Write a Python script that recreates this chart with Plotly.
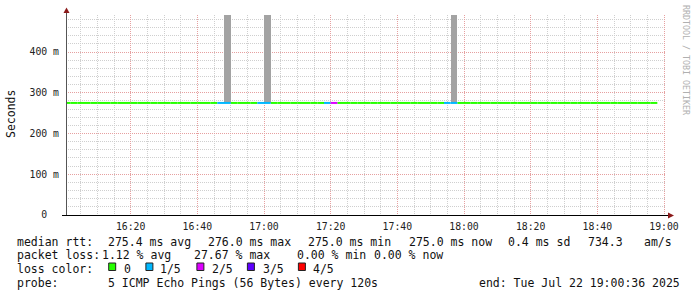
import plotly.graph_objects as go
import pandas as pd

# ---------------- data ----------------
step_start = list(pd.date_range("2025-07-22 16:00:00", "2025-07-22 18:56:00", freq="2min"))
# median rtt per 2-minute step (seconds)
median_rtt = [0.275] * 89
# loss per step (count of 5 pings lost)
loss_step_times = ["16:46", "16:48", "16:58", "17:00", "17:18", "17:20", "17:54", "17:56"]
loss_step_counts = [1, 1, 1, 1, 1, 2, 1, 1]
# smoke (gray bars) steps, reaching the top of the graph
smoke_times = ["16:48", "17:00", "17:56"]
smoke_top = 0.4908

loss_colors = ["#26ff00", "#00b8ff", "#dd00ff", "#5e00ff", "#ff0000"]
loss_labels = ["0", "1/5", "2/5", "3/5", "4/5"]

y_tickvals = [0, 0.1, 0.2, 0.3, 0.4]
y_ticktext = ["0\u00a0\u00a0", "100 m", "200 m", "300 m", "400 m"]

line1 = ["median rtt:", "275.4 ms avg", "276.0 ms max", "275.0 ms min", "275.0 ms now", "0.4 ms sd", "734.3", "am/s"]
line1_x = [16, 107.3, 207.3, 307.3, 408.3, 507.3, 586.7, 642.7]
line2 = ["packet loss:", "1.12 % avg", "27.67 % max", "0.00 % min", "0.00 % now"]
line2_x = [16, 100.7, 193.3, 296, 372.7]
line4 = ["probe:", "5 ICMP Echo Pings (56 Bytes) every 120s", "end: Tue Jul 22 19:00:36 2025"]
line4_x = [16, 107.3, 478.3]

# ---------------- build ----------------
day = "2025-07-22 "
loss_map = {pd.Timestamp(day + t): c for t, c in zip(loss_step_times, loss_step_counts)}
step = pd.Timedelta(minutes=2)

fig = go.Figure()

# smoke bars
sm_x = [pd.Timestamp(day + t) + step / 2 for t in smoke_times]
sm_base = [median_rtt[step_start.index(pd.Timestamp(day + t))] for t in smoke_times]
fig.add_trace(go.Bar(x=sm_x, y=[smoke_top - b for b in sm_base], base=sm_base,
                     width=120000, marker=dict(color="#a3a3a3", line=dict(width=0)),
                     showlegend=False, hoverinfo="skip"))

# median line colored by loss
for lvl, col in enumerate(loss_colors):
    xs, ys = [], []
    for t, v in zip(step_start, median_rtt):
        if loss_map.get(t, 0) == lvl:
            xs += [t, t + step, None]
            ys += [v, v, None]
    if xs:
        fig.add_trace(go.Scatter(x=xs, y=ys, mode="lines",
                                 line=dict(color=col, width=2),
                                 showlegend=False, hoverinfo="skip"))

L, R, T, B = 66, 31, 15, 82
W, H = 697, 297
PW, PH = W - L - R, H - T - B


def px(x):
    return (x - L) / PW


def py(y):
    return (H - B - y) / PH


mono = "DejaVu Sans Mono"
fig.update_layout(
    width=W, height=H, margin=dict(l=L, r=R, t=T, b=B),
    paper_bgcolor="white", plot_bgcolor="white",
    bargap=0,
    xaxis=dict(type="date", range=["2025-07-22 16:00:36", "2025-07-22 19:00:36"],
               tick0="2025-07-22 16:00:00", dtick=20 * 60 * 1000, tickformat="%H:%M",
               showgrid=True, gridcolor="#e6a0a0", griddash="1px,1px", gridwidth=1,
               minor=dict(dtick=5 * 60 * 1000, showgrid=True, gridcolor="#cfcfcf",
                          griddash="1px,1px", gridwidth=1),
               showline=False, zeroline=False, ticks="", ticklabelstandoff=4,
               tickfont=dict(family=mono, size=9.8, color="#222")),
    yaxis=dict(range=[0, smoke_top], tickvals=y_tickvals, ticktext=y_ticktext,
               showgrid=True, gridcolor="#e6a0a0", griddash="1px,1px", gridwidth=1,
               minor=dict(dtick=0.02, tick0=0, showgrid=True, gridcolor="#cfcfcf",
                          griddash="1px,1px", gridwidth=1),
               showline=False, zeroline=False, ticks="", ticklabelstandoff=6,
               tickfont=dict(family=mono, size=9.8, color="#222")),
)

shapes = []
# y axis line + arrow
shapes.append(dict(type="line", xref="paper", yref="paper", x0=px(66.5), x1=px(66.5),
                   y0=py(215.5), y1=py(11), line=dict(color="#555", width=1)))
shapes.append(dict(type="path", xref="paper", yref="paper",
                   path=f"M {px(63.5)} {py(13)} L {px(69.5)} {py(13)} L {px(66.5)} {py(7.5)} Z",
                   fillcolor="#8b1a1a", line=dict(width=0)))
# x axis line + arrow
shapes.append(dict(type="line", xref="paper", yref="paper", x0=px(62), x1=px(670),
                   y0=py(215.5), y1=py(215.5), line=dict(color="#000", width=1)))
shapes.append(dict(type="path", xref="paper", yref="paper",
                   path=f"M {px(668)} {py(212.5)} L {px(668)} {py(218.5)} L {px(674)} {py(215.5)} Z",
                   fillcolor="#8b1a1a", line=dict(width=0)))

ann = []


def text(x, y, s, size=11.5, color="#111", **kw):
    ann.append(dict(x=px(x), y=py(y), xref="paper", yref="paper", text=s.replace(" ", "\u00a0"),
                    showarrow=False, xanchor=kw.pop("xanchor", "left"), yanchor="middle",
                    borderpad=0,
                    font=dict(family=mono, size=size, color=color), **kw))


for s, x in zip(line1, line1_x):
    text(x, 241.7, s)
for s, x in zip(line2, line2_x):
    text(x, 255.3, s)
text(16, 268.8, "loss color:")
box_x = [108.7, 145.9, 196.9, 247.4, 298.4]
lab_x = [123.3, 159.3, 210.7, 261.7, 312.3]
for col, lab, bx, lx in zip(loss_colors, loss_labels, box_x, lab_x):
    shapes.append(dict(type="rect", xref="paper", yref="paper", x0=px(bx), x1=px(bx + 7),
                       y0=py(270.5), y1=py(263), fillcolor=col, line=dict(color="#222", width=1)))
    text(lx, 268.8, lab)
for s, x in zip(line4, line4_x):
    text(x, 282.7, s)

# y title
text(11, 114, "Seconds", xanchor="center", textangle=-90)
# watermark
text(686, 60, "RRDTOOL / TOBI OETIKER", size=8.3, color="#b0b0b0", xanchor="center", textangle=90)

fig.update_layout(shapes=shapes, annotations=ann)
fig.write_html("out.html")
